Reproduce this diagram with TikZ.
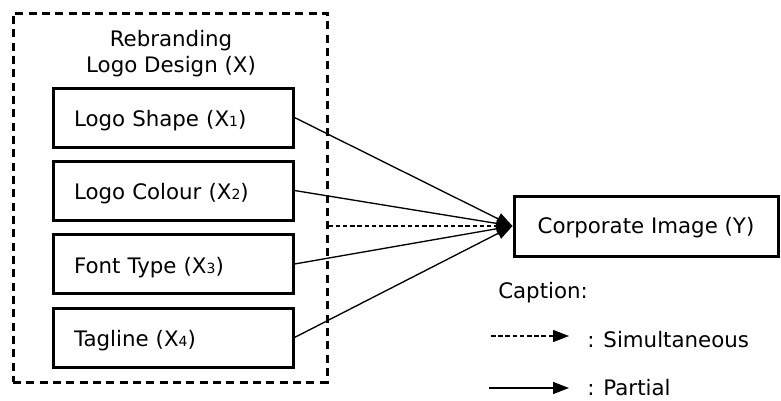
\documentclass[tikz,border=0pt]{standalone}
\usepackage{fontspec}
\setmainfont{DejaVu Sans}
\usetikzlibrary{arrows.meta}

% small index digit sitting on the baseline
\newcommand\idx[1]{{\fontsize{10.5pt}{10.5pt}\selectfont #1}}

\begin{document}
\begin{tikzpicture}[x=0.75pt,y=-0.75pt,
  every node/.style={font=\fontsize{16pt}{19.5pt}\selectfont},
  xbox/.style={draw, line width=2.25pt, minimum width=180pt, minimum height=44.25pt,
    text width=148.5pt, inner xsep=15.75pt, align=left,
    text height=14.2pt, text depth=0pt},
  ybox/.style={draw, line width=2.25pt, minimum width=198pt, minimum height=45pt,
    align=center, text height=11pt, text depth=0pt},
  group/.style={draw, line width=2.25pt, dash pattern=on 6pt off 4pt,
    minimum width=235.5pt, minimum height=276.75pt},
  tip/.style={-{Triangle[length=12pt,width=9pt]}},
  conn/.style={tip, line width=1pt},
  simconn/.style={conn, dash pattern=on 3.4pt off 2pt},
  plain/.style={inner sep=0pt, anchor=base west}]

\useasboundingbox (0,0) rectangle (781,400);

% independent variables grouped in a dashed frame
\node[group] (grp) at (170,197.5) {};
\node[inner sep=0pt, align=center, anchor=base] (title) at (171,72)
  {Rebranding\\Logo Design (X)};

\node[xbox] (x1) at (173,117.5) {Logo Shape (X\idx{1})};
\node[xbox] (x2) at (173,190.5) {Logo Colour (X\idx{2})};
\node[xbox] (x3) at (173,264)   {Font Type (X\idx{3})};
\node[xbox] (x4) at (173,337.5) {Tagline (X\idx{4})};

% dependent variable
\node[ybox] (y) at (646,226) {Corporate Image (Y)};

% partial effects
\draw[conn] (x1.east) -- (y.west);
\draw[conn] (x2.east) -- (y.west);
\draw[conn] (x3.east) -- (y.west);
\draw[conn] (x4.east) -- (y.west);
% simultaneous effect
\draw[simconn] (grp.east |- y.west) -- (y.west);

% legend
\node[plain] (cap) at (498,298) {Caption:};
\coordinate (s0) at (491,336);
\coordinate (s1) at (569,336);
\draw[simconn] (s0) -- (s1);
\node[plain] (simlbl) at (587,347) {: Simultaneous};
\coordinate (p0) at (489,388);
\coordinate (p1) at (569,388);
\draw[conn] (p0) -- (p1);
\node[plain] (parlbl) at (587,395.5) {: Partial};
\end{tikzpicture}
\end{document}
